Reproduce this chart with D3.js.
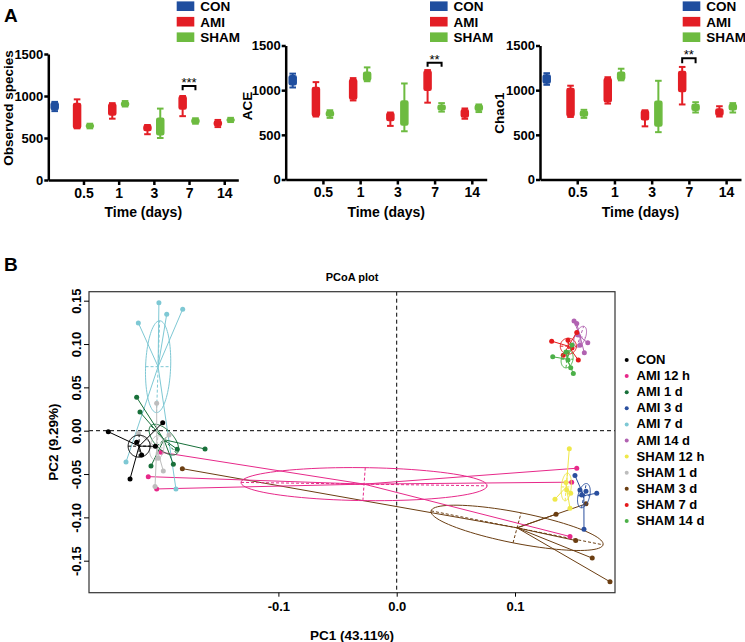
<!DOCTYPE html>
<html><head><meta charset="utf-8">
<script src="https://cdn.jsdelivr.net/npm/d3@7"></script>
<style>
body{margin:0;background:#fff}
text{font-family:"Liberation Sans",Arial,Helvetica,sans-serif;font-weight:bold;fill:#000}
</style>
</head><body>
<svg id="chart" width="745" height="642"></svg>
<script>
// ---------------- Panel A data ----------------
const timeLabels = ["0.5", "1", "3", "7", "14"];
const boxGroups = ["CON", "AMI", "SHAM"];
const boxColors = ["#1f4e9f", "#e31e25", "#6dbb40"];
// box stats: [min, q1, median, q3, max]
const obsCON = [820, 840, 880, 920, 930];
const obsAMI = [[615, 620, 780, 910, 960], [730, 775, 840, 905, 915], [545, 590, 620, 650, 655], [760, 845, 920, 995, 1000], [630, 650, 680, 700, 715]];
const obsSHAM = [[615, 625, 640, 660, 670], [875, 885, 905, 925, 940], [500, 540, 620, 735, 850], [670, 680, 705, 725, 735], [690, 700, 715, 730, 740]];
const aceCON = [1030, 1060, 1110, 1160, 1185];
const aceAMI = [[705, 715, 850, 1030, 1090], [885, 900, 1000, 1120, 1135], [600, 660, 700, 745, 750], [860, 1000, 1100, 1215, 1225], [680, 700, 740, 780, 795]];
const aceSHAM = [[690, 710, 735, 760, 775], [1100, 1110, 1160, 1200, 1255], [540, 610, 750, 880, 1075], [760, 780, 800, 830, 855], [755, 775, 800, 830, 840]];
const chaoCON = [1060, 1080, 1130, 1170, 1190];
const chaoAMI = [[700, 710, 850, 1020, 1050], [850, 870, 1000, 1130, 1145], [595, 670, 720, 770, 775], [840, 985, 1100, 1210, 1260], [705, 720, 750, 790, 820]];
const chaoSHAM = [[690, 710, 735, 765, 780], [1110, 1120, 1170, 1200, 1240], [530, 600, 750, 875, 1105], [750, 775, 800, 840, 865], [750, 780, 805, 840, 855]];
const yTicksA = [0, 500, 1000, 1500];
// significance brackets: [time position (1-based), bracket value, leg end value, label]
const obsSig = [4, 1120, 1068, "***"];
const aceSig = [4, 1307, 1262, "**"];
const chaoSig = [4, 1356, 1300, "**"];

// ---------------- Panel B data (PCoA) ----------------
const pcoaGroups = ["CON", "AMI 12 h", "AMI 1 d", "AMI 3 d", "AMI 7 d", "AMI 14 d", "SHAM 12 h", "SHAM 1 d", "SHAM 3 d", "SHAM 7 d", "SHAM 14 d"];
const pcoaColors = ["#000000", "#e7298a", "#18703a", "#2a4f9e", "#7ec8d4", "#b162b1", "#efe84a", "#bdbdbd", "#6b3e12", "#e41a1c", "#4cb048"];
const ptsCON = [[-0.2438, -0.0012], [-0.1978, 0.0092], [-0.2198, -0.0134], [-0.2156, -0.0280], [-0.2254, -0.0556], [-0.2040, -0.0180]];
const ptsAMI12h = [[-0.2100, -0.0530], [-0.2029, -0.0672], [-0.1992, -0.0249], [0.1522, -0.0433], [0.1465, -0.1221], [0.1479, -0.0594]];
const ptsAMI1d = [[-0.2198, 0.0385], [-0.2170, 0.0215], [-0.1620, -0.0211], [-0.1855, -0.0214], [-0.2077, -0.0407], [-0.1888, -0.0387]];
const ptsAMI3d = [[0.1507, -0.0518], [0.1691, -0.0721], [0.1583, -0.1136], [0.1549, -0.0683], [0.1564, -0.0741], [0.1600, -0.0700]];
const ptsAMI7d = [[-0.2010, 0.1475], [-0.1944, 0.1344], [-0.1809, 0.1402], [-0.2184, 0.1244], [-0.2288, -0.0361], [-0.1866, -0.0672]];
const ptsAMI14d = [[0.1499, 0.1267], [0.1522, 0.1237], [0.1615, 0.1014], [0.1586, 0.0899], [0.1533, 0.1103], [0.1549, 0.0987]];
const ptsSHAM12h = [[0.1459, -0.0207], [0.1338, -0.0790], [0.1465, -0.0894], [0.1437, -0.0683], [0.1471, -0.0721], [0.1431, -0.0599]];
const ptsSHAM1d = [[-0.2029, 0.0316], [-0.1973, -0.0464], [-0.2043, -0.0645], [-0.2184, -0.0030], [-0.1925, -0.0050], [-0.2015, -0.0318]];
const ptsSHAM3d = [[-0.1812, -0.0438], [0.1347, -0.0963], [0.1600, -0.0844], [0.1513, -0.1267], [0.1653, -0.1470], [0.1803, -0.1743]];
const ptsSHAM7d = [[0.1310, 0.1033], [0.1522, 0.1134], [0.1535, 0.0815], [0.1408, 0.0872], [0.1482, 0.0953], [0.1448, 0.1045]];
const ptsSHAM14d = [[0.1319, 0.0853], [0.1471, 0.0726], [0.1493, 0.0661], [0.1431, 0.0907], [0.1482, 0.0988], [0.1448, 0.0815]];
// ellipse conjugate half-axes per group, data units: [ax, ay, bx, by]
const ellipseAxes = [
  [0.0093, 0, 0, 0.0127],
  [0.104, -0.002, 0.001, 0.019],
  [0.011, -0.0161, 0.0059, 0.0075],
  [0.002, 0.014, 0.005, 0],
  [0.0013, 0.053, 0.0106, 0],
  [0.003, 0.012, 0.0045, -0.001],
  [0.001, 0.016, 0.0042, 0],
  [0.001, 0.014, 0.006, 0],
  [0.0727, -0.0196, 0.0034, 0.0173],
  [0.0068, 0, 0, 0.0092],
  [0.001, 0.010, 0.005, 0]
];
const pcXTicks = [-0.1, 0.0, 0.1];
const pcYTicks = [-0.15, -0.10, -0.05, 0.00, 0.05, 0.10, 0.15];

// ---------------- drawing ----------------
const svg = d3.select("#chart");
svg.append("rect").attr("width", 745).attr("height", 642).attr("fill", "#fff");

function boxPanel(cfg) {
  const g = svg.append("g");
  const x = d3.scaleLinear().domain([0, 5.4]).range([cfg.axisX, cfg.axisX + cfg.W]);
  const y = d3.scaleLinear().domain([0, 1500]).range([cfg.y0, cfg.yTop]);

  // y axis
  const ya = g.append("g").attr("transform", `translate(${cfg.axisX},0)`)
    .call(d3.axisLeft(y).tickValues(yTicksA).tickFormat(d3.format("d")).tickSize(4).tickSizeOuter(0).tickPadding(1));
  ya.select(".domain").attr("stroke", "#000").attr("stroke-width", 2.5);
  ya.selectAll(".tick line").attr("stroke", "#000").attr("stroke-width", 2.5);
  ya.selectAll(".tick text").style("font-size", "13px").attr("fill", "#000");
  ya.attr("font-family", null);

  // x axis
  const xa = g.append("g").attr("transform", `translate(0,${cfg.y0})`)
    .call(d3.axisBottom(x).tickValues([1, 2, 3, 4, 5]).tickFormat(i => timeLabels[i - 1]).tickSize(5).tickSizeOuter(0).tickPadding(3));
  xa.select(".domain").attr("stroke", "#000").attr("stroke-width", 2.5);
  xa.selectAll(".tick line").attr("stroke", "#000").attr("stroke-width", 2.5);
  xa.selectAll(".tick text").style("font-size", "14px").attr("fill", "#000");
  xa.attr("font-family", null);

  g.append("text").attr("x", cfg.axisX + cfg.W / 2).attr("y", 217).attr("text-anchor", "middle")
    .style("font-size", "14px").text("Time (days)");
  g.append("text").attr("transform", `translate(${cfg.titleX},${cfg.titleY}) rotate(-90)`)
    .attr("text-anchor", "middle").style("font-size", "13.5px").text(cfg.title);

  const bw = 7;
  function drawBox(cx, s, col) {
    g.append("line").attr("x1", cx).attr("x2", cx).attr("y1", y(s[0])).attr("y2", y(s[4]))
      .attr("stroke", col).attr("stroke-width", 2);
    [s[0], s[4]].forEach(v => g.append("line").attr("x1", cx - 3.3).attr("x2", cx + 3.3)
      .attr("y1", y(v)).attr("y2", y(v)).attr("stroke", col).attr("stroke-width", 2));
    g.append("rect").attr("x", cx - bw / 2).attr("width", bw).attr("y", y(s[3]))
      .attr("height", Math.max(1, y(s[1]) - y(s[3]))).attr("rx", 1.5)
      .attr("fill", col).attr("stroke", col).attr("stroke-width", 1.5).attr("stroke-linejoin", "round");
  }
  drawBox(x(0) + cfg.off, cfg.con, boxColors[0]);
  cfg.ami.forEach((s, i) => drawBox(x(i + 1) - cfg.off, s, boxColors[1]));
  cfg.sham.forEach((s, i) => drawBox(x(i + 1) + cfg.off, s, boxColors[2]));

  // significance bracket
  const [ti, bv, lv, lab] = cfg.sig;
  const xl = x(ti) - cfg.off, xr = x(ti) + cfg.off;
  g.append("path").attr("d", `M${xl},${y(lv)}V${y(bv)}H${xr}V${y(lv)}`)
    .attr("fill", "none").attr("stroke", "#000").attr("stroke-width", 2);
  g.append("text").attr("x", (xl + xr) / 2).attr("y", y(bv) + 1).attr("text-anchor", "middle")
    .style("font-size", "13px").style("font-weight", "normal").text(lab);

  // legend
  boxGroups.forEach((name, i) => {
    const cy = 6.2 + i * 15.5;
    g.append("rect").attr("x", cfg.legX).attr("y", cy - 4.8).attr("width", 17.6).attr("height", 9.6)
      .attr("fill", boxColors[i]);
    g.append("text").attr("x", cfg.legX + 23.5).attr("y", cy + 4.8).style("font-size", "13.5px").text(name);
  });
}

boxPanel({axisX: 48.3, W: 190, y0: 180, yTop: 54, off: 6.4, con: obsCON, ami: obsAMI, sham: obsSHAM,
  sig: obsSig, title: "Observed species", titleX: 12.5, titleY: 108, legX: 176.7});
boxPanel({axisX: 285.7, W: 201, y0: 179.5, yTop: 45.5, off: 7, con: aceCON, ami: aceAMI, sham: aceSHAM,
  sig: aceSig, title: "ACE", titleX: 251.5, titleY: 106, legX: 430});
boxPanel({axisX: 540, W: 201, y0: 179.5, yTop: 45.5, off: 6.7, con: chaoCON, ami: chaoAMI, sham: chaoSHAM,
  sig: chaoSig, title: "Chao1", titleX: 504, titleY: 113, legX: 682.7});

svg.append("text").attr("x", 4).attr("y", 21.5).style("font-size", "19px").text("A");
svg.append("text").attr("x", 4).attr("y", 271).style("font-size", "19px").text("B");

// ---------------- PCoA ----------------
const xP = d3.scaleLinear().domain([-0.1, 0.1]).range([278.4, 515]);
const yP = d3.scaleLinear().domain([-0.15, 0.15]).range([560.7, 300.7]);
const box = {x0: 89, x1: 615, y0: 291.7, y1: 592.7};
const pg = svg.append("g");

pg.append("text").attr("x", (box.x0 + box.x1) / 2).attr("y", 281).attr("text-anchor", "middle")
  .style("font-size", "11px").text("PCoA plot");

// zero lines
pg.append("line").attr("x1", box.x0).attr("x2", box.x1).attr("y1", yP(0)).attr("y2", yP(0))
  .attr("stroke", "#000").attr("stroke-dasharray", "4,3").attr("stroke-width", 1);
pg.append("line").attr("x1", xP(0)).attr("x2", xP(0)).attr("y1", box.y0).attr("y2", box.y1)
  .attr("stroke", "#000").attr("stroke-dasharray", "4,3").attr("stroke-width", 1);

const allPts = [ptsCON, ptsAMI12h, ptsAMI1d, ptsAMI3d, ptsAMI7d, ptsAMI14d, ptsSHAM12h, ptsSHAM1d, ptsSHAM3d, ptsSHAM7d, ptsSHAM14d];
const order = [8, 1, 4, 2, 7, 0, 6, 3, 5, 9, 10];
order.forEach(gi => {
  const pts = allPts[gi], col = pcoaColors[gi];
  const cx = d3.mean(pts, p => p[0]), cy = d3.mean(pts, p => p[1]);
  const gg = pg.append("g");
  pts.forEach(p => gg.append("line").attr("x1", xP(cx)).attr("y1", yP(cy)).attr("x2", xP(p[0])).attr("y2", yP(p[1]))
    .attr("stroke", col).attr("stroke-width", 1));
  const [ax, ay, bx, by] = ellipseAxes[gi];
  const ring = d3.range(0, 361, 4).map(t => {
    const r = t * Math.PI / 180;
    return [xP(cx + Math.cos(r) * ax + Math.sin(r) * bx), yP(cy + Math.cos(r) * ay + Math.sin(r) * by)];
  });
  gg.append("path").attr("d", d3.line()(ring)).attr("fill", "none").attr("stroke", col).attr("stroke-width", 1);
  [[ax, ay], [bx, by]].forEach(([u, v]) => gg.append("line")
    .attr("x1", xP(cx - u)).attr("y1", yP(cy - v)).attr("x2", xP(cx + u)).attr("y2", yP(cy + v))
    .attr("stroke", col).attr("stroke-width", 1).attr("stroke-dasharray", "3,2"));
  pts.forEach(p => gg.append("circle").attr("cx", xP(p[0])).attr("cy", yP(p[1])).attr("r", 2.5).attr("fill", col));
});

pg.append("rect").attr("x", box.x0).attr("y", box.y0).attr("width", box.x1 - box.x0).attr("height", box.y1 - box.y0)
  .attr("fill", "none").attr("stroke", "#333").attr("stroke-width", 1.2);

const pxa = pg.append("g").attr("transform", `translate(0,${box.y1})`)
  .call(d3.axisBottom(xP).tickValues(pcXTicks).tickFormat(d3.format(".1f")).tickSize(4).tickSizeOuter(0).tickPadding(5));
pxa.select(".domain").remove();
pxa.selectAll(".tick text").style("font-size", "13px").attr("fill", "#000").text(d => d3.format(".1f")(d).replace("−", "-"));
pxa.attr("font-family", null);

const pya = pg.append("g").attr("transform", `translate(${box.x0},0)`)
  .call(d3.axisLeft(yP).tickValues(pcYTicks).tickFormat(d3.format(".2f")).tickSize(5).tickSizeOuter(0));
pya.select(".domain").remove();
pya.selectAll(".tick text").attr("x", 0).attr("dy", null)
  .attr("transform", "translate(-8,0) rotate(-90)").attr("text-anchor", "middle")
  .style("font-size", "13px").attr("fill", "#000").text(d => d3.format(".2f")(d).replace("−", "-"));
pya.attr("font-family", null);

pg.append("text").attr("x", (box.x0 + box.x1) / 2).attr("y", 640).attr("text-anchor", "middle")
  .style("font-size", "13.5px").text("PC1 (43.11%)");
pg.append("text").attr("transform", `translate(58,${(box.y0 + box.y1) / 2}) rotate(-90)`).attr("text-anchor", "middle")
  .style("font-size", "13.5px").text("PC2 (9.29%)");

// legend
pcoaGroups.forEach((name, i) => {
  const ly = 359 + i * 16.1;
  pg.append("circle").attr("cx", 626.7).attr("cy", ly + 1).attr("r", 2).attr("fill", pcoaColors[i]);
  pg.append("text").attr("x", 636.5).attr("y", ly + 5).style("font-size", "13px").text(name);
});
</script>
</body></html>
